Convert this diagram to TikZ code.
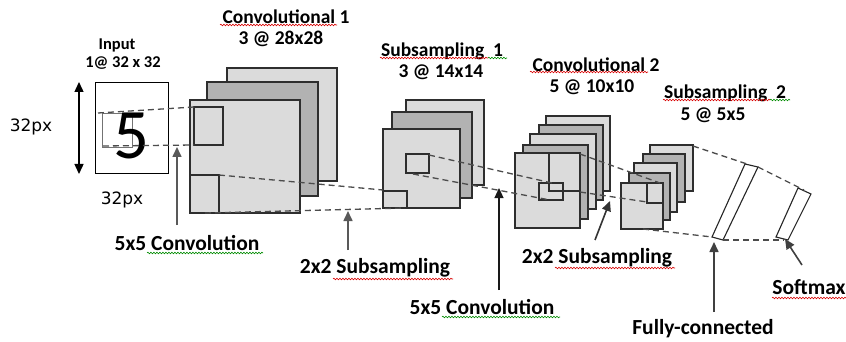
\documentclass[tikz,border=0pt]{standalone}
\usepackage{fontspec}
\setmainfont{Carlito}
\newfontfamily\pxfont{DejaVu Sans}
\usetikzlibrary{arrows.meta,decorations.pathmorphing}

\begin{document}
\begin{tikzpicture}[x=1pt,y=-1pt,
  frame/.style={draw=black!82, line width=1.3pt},
  lightfm/.style={frame, fill=black!14},
  darkfm/.style={frame, fill=black!30},
  unit/.style={draw=black!85, line width=1.1pt, fill=white},
  guide/.style={draw=black!70, dash pattern=on 6pt off 4pt, line width=1.3pt},
  pointer/.style={draw=black!65, line width=1.6pt, -{Triangle[length=10pt,width=9pt]}},
  thinpointer/.style={draw=black!90, line width=1.1pt, -{Triangle[length=10pt,width=9pt]}},
  title/.style={font=\bfseries\fontsize{19.5}{21}\selectfont, inner sep=0pt},
  sub/.style={font=\bfseries\fontsize{19.5}{21}\selectfont, inner sep=0pt},
  lbl/.style={font=\bfseries\fontsize{21.5}{23}\selectfont, inner sep=0pt},
  spellred/.style={draw=red!85!black, line width=0.6pt, decorate,
    decoration={snake, amplitude=0.8pt, segment length=3pt}},
  spellgreen/.style={spellred, draw=green!55!black},
]
\useasboundingbox (0,0) rectangle (846,342);
\fill[white] (0,0) rectangle (846,342);

% ---------------- input image ----------------
\node[draw=black, line width=1pt, minimum width=73pt, minimum height=91pt,
      inner sep=0pt, anchor=north west] (input) at (95,82) {};
\draw[black!55, line width=0.8pt] (102,113) rectangle (132,147);
\node[font=\fontsize{71}{71}\selectfont, inner sep=0pt] (digit) at (131,136) {5};
\coordinate (hTop) at (79,82);
\coordinate (hBot) at (79,174);
\draw[line width=1.4pt, {Triangle[length=10pt,width=9pt]}-{Triangle[length=10pt,width=9pt]}] (hTop) -- (hBot);
\node[font=\pxfont\fontsize{17}{18}\selectfont, inner sep=0pt] (pxleft) at (31,127) {32px};
\node[font=\pxfont\fontsize{17}{18}\selectfont, inner sep=0pt] (pxbot) at (122,200) {32px};
\node[font=\bfseries\fontsize{16.5}{17}\selectfont, inner sep=0pt] (inTitle) at (117,45) {Input};
\node[font=\bfseries\fontsize{16.5}{17}\selectfont, inner sep=0pt] (inSize) at (123,63) {1@ 32 x 32};

% ---------------- convolutional 1 ----------------
\draw[lightfm] (227,68) rectangle (337,181);
\draw[darkfm]  (207,82) rectangle (318,196);
\draw[lightfm] (190,100) rectangle (300,213);
\draw[lightfm] (194,107) rectangle (223,145);
\draw[lightfm] (190,175) rectangle (219,213);
\coordinate (c1a) at (194,107);
\coordinate (c1b) at (194,145);
\coordinate (c1c) at (219,175);
\coordinate (c1d) at (205,213);

% ---------------- subsampling 1 ----------------
\draw[lightfm] (406,100) rectangle (484,185);
\draw[darkfm]  (392,112) rectangle (472,198);
\draw[lightfm] (383,129) rectangle (460,208);
\draw[lightfm] (406,154) rectangle (429,173);
\draw[lightfm] (383,191) rectangle (407,208);
\coordinate (s1a) at (383,190);
\coordinate (s1b) at (405,208);
\coordinate (s1c) at (429,155);
\coordinate (s1d) at (413,174);

% ---------------- convolutional 2 ----------------
\draw[lightfm] (546,116) rectangle (610,191);
\draw[darkfm]  (539,125) rectangle (603,200);
\draw[lightfm] (530,134) rectangle (596,209);
\draw[darkfm]  (523,145) rectangle (588,219);
\draw[lightfm] (515,153) rectangle (580,228);
\draw[frame] (549,153) -- (549,191) -- (580,191);
\draw[frame] (539,183) rectangle (563,200);
\coordinate (c2a) at (552,183);
\coordinate (c2b) at (550,200);
\coordinate (c2c) at (580,154);
\coordinate (c2d) at (580,192);

% ---------------- subsampling 2 ----------------
\draw[lightfm] (650,145) rectangle (693,191);
\draw[darkfm]  (643,154) rectangle (685,202);
\draw[lightfm] (634,163) rectangle (677,212);
\draw[darkfm]  (629,173) rectangle (670,220);
\draw[lightfm] (621,183) rectangle (663,229);
\draw[frame] (647,183) -- (647,203) -- (663,203);
\coordinate (s2a) at (660,183);
\coordinate (s2b) at (647,202);
\coordinate (s2c) at (693,146);
\coordinate (s2d) at (643,229);

% ---------------- fully-connected and softmax units ----------------
\draw[unit] (745,164) -- (758,167) -- (723,240) -- (712,237) -- cycle;
\draw[unit] (798,188) -- (811,194) -- (788,240) -- (776,237) -- cycle;
\coordinate (fcTop) at (750,165);
\coordinate (fcTopR) at (758,167);
\coordinate (fcBot) at (712,237);
\coordinate (fcBotR) at (723,240);
\coordinate (smTop) at (804,190);
\coordinate (smBot) at (784,240);

% ---------------- dashed guides ----------------
\draw[guide] (98,113) -- (c1a);
\draw[guide] (103,146) -- (c1b);
\draw[guide] (c1c) -- (s1a);
\draw[guide] (c1d) -- (s1b);
\draw[guide] (s1c) -- (c2a);
\draw[guide] (s1d) -- (c2b);
\draw[guide] (c2c) -- (s2a);
\draw[guide] (c2d) -- (s2b);
\draw[guide] (s2c) -- (fcTop);
\draw[guide] (fcTopR) -- (smTop);
\draw[guide] (s2d) -- (fcBot);
\draw[guide] (fcBotR) -- (smBot);

% ---------------- layer titles ----------------
\node[title] (t1) at (286,17) {Convolutional 1};
\node[sub]   (t1s) at (281,39) {3 @ 28x28};
\node[title] (t2) at (442,51) {Subsampling\ \ 1};
\node[sub]   (t2s) at (441,72) {3 @ 14x14};
\node[title] (t3) at (596,65) {Convolutional 2};
\node[sub]   (t3s) at (592,87) {5 @ 10x10};
\node[title] (t4) at (725,93) {Subsampling\ \ 2};
\node[sub]   (t4s) at (713,115) {5 @ 5x5};

% ---------------- operation labels and pointers ----------------
\node[lbl] (op1) at (187,243) {5x5 Convolution};
\node[lbl] (op2) at (375,268) {2x2 Subsampling};
\node[lbl] (op3) at (482,307) {5x5 Convolution};
\node[lbl] (op4) at (597,258) {2x2 Subsampling};
\node[lbl] (op5) at (703,329) {Fully-connected};
\node[lbl] (op6) at (809,287) {Softmax};

\coordinate (p1) at (177,225);  \coordinate (q1) at (177,147);
\coordinate (p2) at (348,250);  \coordinate (q2) at (348,211);
\coordinate (p3) at (499,290);  \coordinate (q3) at (499,188);
\coordinate (p4) at (595,240);  \coordinate (q4) at (610,201);
\coordinate (p5) at (714,312);  \coordinate (q5) at (714,242);
\coordinate (p6) at (802,265);  \coordinate (q6) at (785,239);
\draw[pointer] (p1) -- (q1);
\draw[pointer] (p2) -- (q2);
\draw[thinpointer] (p3) -- (q3);
\draw[pointer, draw=black!80] (p4) -- (q4);
\draw[pointer, draw=black!75] (p5) -- (q5);
\draw[pointer, draw=black!75] (p6) -- (q6);

% ---------------- proofing underlines ----------------
\draw[spellred]   (220,25) -- (337,25);
\draw[spellred]   (380,58) -- (488,58);
\draw[spellgreen] (488,58) -- (507,58);
\draw[spellred]   (530,72) -- (648,72);
\draw[spellred]   (663,100) -- (770,100);
\draw[spellgreen] (770,100) -- (790,100);
\draw[spellgreen] (147,253) -- (263,253);
\draw[spellred]   (333,279) -- (453,279);
\draw[spellgreen] (442,317) -- (560,317);
\draw[spellred]   (555,268) -- (675,268);
\draw[spellred]   (772,298) -- (846,298);
\end{tikzpicture}
\end{document}
